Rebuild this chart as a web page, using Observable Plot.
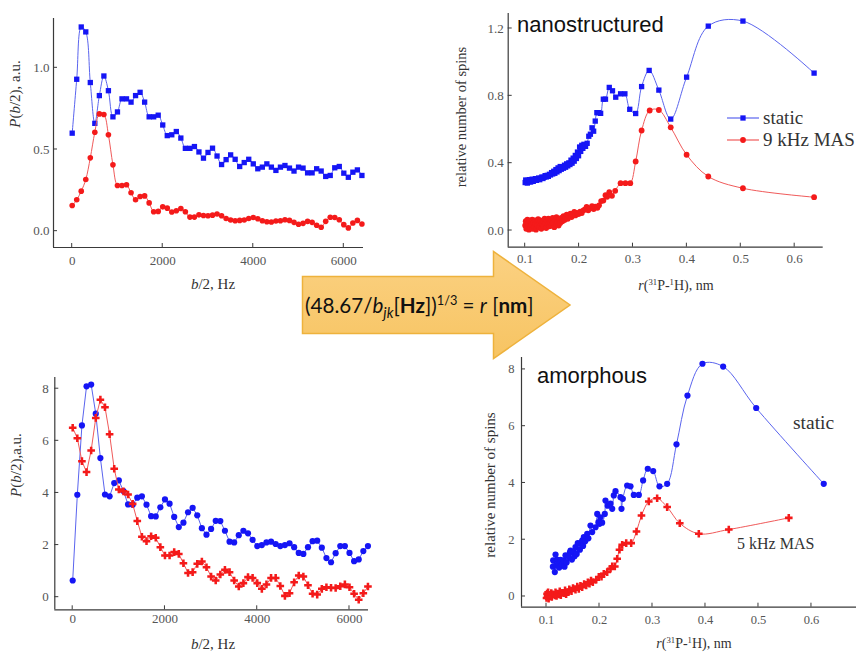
<!DOCTYPE html>
<html>
<head>
<meta charset="utf-8">
<script src="https://cdn.jsdelivr.net/npm/d3@7"></script>
<script src="https://cdn.jsdelivr.net/npm/@observablehq/plot@0.6"></script>
<style>
  html, body { margin: 0; padding: 0; background: #fff; }
  #fig { position: relative; width: 857px; height: 655px; overflow: hidden; background: #fff; }
  #fig > svg { position: absolute; }
</style>
</head>
<body>
<div id="fig"></div>
<script>
// ---------- distribution P(b/2) vs. dipolar frequency b/2 (Hz) ----------
const freqHz = [0,100,200,300,400,500,600,700,800,900,
  1000,1100,1200,1300,1400,1500,1600,1700,1800,1900,
  2000,2100,2200,2300,2400,2500,2600,2700,2800,2900,
  3000,3100,3200,3300,3400,3500,3600,3700,3800,3900,
  4000,4100,4200,4300,4400,4500,4600,4700,4800,4900,
  5000,5100,5200,5300,5400,5500,5600,5700,5800,5900,
  6000,6100,6200,6300,6400];

// nanostructured sample
const nanoStaticP = [0.60,0.93,1.25,1.22,0.91,0.66,0.83,0.95,0.86,0.70,
  0.73,0.81,0.81,0.79,0.83,0.85,0.79,0.70,0.70,0.71,
  0.65,0.585,0.59,0.61,0.57,0.507,0.507,0.518,0.485,0.447,
  0.482,0.508,0.46,0.408,0.438,0.467,0.44,0.396,0.42,0.44,
  0.412,0.382,0.392,0.412,0.392,0.372,0.392,0.402,0.386,0.368,
  0.392,0.386,0.357,0.357,0.382,0.368,0.335,0.341,0.388,0.396,
  0.355,0.33,0.361,0.375,0.341];
const nanoMasP = [0.157,0.192,0.245,0.316,0.449,0.606,0.718,0.714,0.59,0.406,
  0.28,0.28,0.284,0.235,0.192,0.212,0.216,0.173,0.119,0.121,
  0.149,0.141,0.117,0.125,0.139,0.119,0.086,0.086,0.1,0.096,
  0.094,0.098,0.105,0.094,0.078,0.068,0.064,0.066,0.068,0.078,
  0.084,0.076,0.064,0.058,0.056,0.062,0.064,0.07,0.066,0.054,
  0.042,0.048,0.06,0.054,0.036,0.024,0.06,0.085,0.084,0.07,
  0.04,0.02,0.05,0.066,0.044];

// amorphous sample
const amorStaticP = [0.64,3.93,6.59,8.09,8.16,7.04,5.34,3.94,3.87,4.38,
  4.48,4.07,3.56,3.55,3.82,3.87,3.55,3.11,3.10,3.45,
  3.75,3.59,3.08,2.69,2.86,3.26,3.43,3.14,2.65,2.40,
  2.62,2.93,2.92,2.55,2.13,2.10,2.38,2.55,2.45,2.20,
  1.96,2.00,2.10,2.13,2.04,1.96,2.00,2.07,1.92,1.70,
  1.66,1.92,2.15,2.17,1.90,1.50,1.34,1.69,1.96,1.96,
  1.70,1.38,1.45,1.77,1.96];
const amorMasP = [6.50,6.10,5.22,4.80,5.63,6.88,7.58,7.29,6.25,4.93,
  4.13,4.06,3.94,3.58,2.92,2.32,2.15,2.34,2.28,1.92,
  1.60,1.60,1.73,1.66,1.30,0.93,0.96,1.28,1.37,1.15,
  0.79,0.64,0.87,1.05,0.96,0.64,0.41,0.54,0.77,0.74,
  0.54,0.32,0.49,0.74,0.74,0.43,0.05,0.15,0.57,0.83,
  0.79,0.46,0.13,0.10,0.32,0.38,0.36,0.35,0.42,0.49,
  0.38,0.13,-0.10,0.15,0.41];

// ---------- relative number of spins vs. P–H distance r (nm): [r, value] ----------
const nanoStaticR = [[0.100,0.285],[0.101,0.300],[0.102,0.292],[0.104,0.282],[0.105,0.298],[0.107,0.290],
  [0.108,0.302],[0.110,0.288],[0.112,0.296],[0.113,0.305],[0.115,0.292],[0.117,0.300],[0.119,0.308],
  [0.121,0.298],[0.123,0.304],[0.125,0.312],[0.127,0.302],[0.129,0.310],[0.131,0.318],[0.133,0.309],
  [0.135,0.316],[0.137,0.326],[0.139,0.318],[0.141,0.328],[0.143,0.322],[0.145,0.334],[0.147,0.330],
  [0.149,0.344],[0.151,0.336],[0.153,0.352],[0.155,0.340],[0.157,0.362],[0.159,0.348],[0.161,0.372],
  [0.163,0.356],[0.165,0.380],[0.167,0.364],[0.169,0.378],[0.171,0.370],[0.173,0.388],[0.175,0.376],
  [0.177,0.396],[0.179,0.384],[0.181,0.402],[0.183,0.392],[0.185,0.418],[0.187,0.400],[0.189,0.430],
  [0.191,0.412],[0.193,0.446],[0.195,0.428],[0.197,0.466],[0.199,0.444],[0.201,0.496],[0.203,0.470],
  [0.205,0.506],[0.207,0.488],[0.209,0.512],[0.212,0.500],[0.215,0.518],[0.218,0.560],[0.221,0.572],
  [0.224,0.610],[0.227,0.590],[0.230,0.650],[0.233,0.700],[0.236,0.700],[0.240,0.696],[0.245,0.780],
  [0.249,0.780],[0.256,0.850],[0.262,0.830],[0.268,0.792],[0.277,0.812],[0.285,0.812],[0.294,0.720],
  [0.305,0.695],[0.316,0.855],[0.330,0.951],[0.348,0.834],[0.370,0.662],[0.3995,0.911],[0.4397,1.214],
  [0.504,1.244],[0.636,0.935]];
const nanoMasR = [[0.100,0.030],[0.101,0.055],[0.102,0.010],[0.103,0.040],[0.104,0.065],[0.105,0.020],
  [0.106,0.045],[0.107,0.005],[0.108,0.060],[0.109,0.030],[0.110,0.015],[0.111,0.050],[0.112,0.035],
  [0.113,0.065],[0.114,0.010],[0.115,0.045],[0.117,0.025],[0.118,0.060],[0.119,0.040],[0.120,0.005],
  [0.122,0.050],[0.123,0.030],[0.124,0.068],[0.126,0.020],[0.127,0.045],[0.128,0.060],[0.130,0.010],
  [0.131,0.040],[0.133,0.055],[0.134,0.025],[0.136,0.070],[0.137,0.040],[0.139,0.015],[0.140,0.060],
  [0.142,0.035],[0.143,0.070],[0.145,0.025],[0.146,0.050],[0.148,0.065],[0.149,0.030],[0.151,0.075],
  [0.152,0.045],[0.154,0.020],[0.155,0.060],[0.157,0.040],[0.158,0.080],[0.160,0.050],[0.162,0.030],
  [0.163,0.068],[0.165,0.045],[0.167,0.075],[0.169,0.055],[0.171,0.085],[0.173,0.062],[0.175,0.075],
  [0.177,0.095],[0.179,0.070],[0.181,0.085],[0.184,0.100],[0.186,0.080],[0.188,0.095],[0.191,0.110],
  [0.193,0.090],[0.196,0.105],[0.199,0.098],[0.202,0.112],[0.205,0.104],[0.208,0.120],[0.211,0.125],
  [0.214,0.140],[0.217,0.120],[0.220,0.132],[0.224,0.145],[0.227,0.128],[0.230,0.142],[0.234,0.135],
  [0.237,0.150],[0.241,0.175],[0.245,0.178],[0.249,0.210],[0.252,0.200],[0.256,0.228],[0.261,0.206],
  [0.267,0.236],[0.277,0.281],[0.286,0.281],[0.295,0.281],[0.305,0.410],[0.316,0.594],[0.331,0.713],
  [0.348,0.716],[0.370,0.613],[0.3995,0.450],[0.4397,0.321],[0.504,0.251],[0.636,0.198]];

const amorStaticR = [[0.112,1.05],[0.1126,1.27],[0.1157,0.86],[0.117,1.48],[0.118,1.09],[0.120,1.30],
  [0.122,1.15],[0.124,1.02],[0.1264,1.29],[0.129,1.12],[0.1327,1.27],[0.134,1.05],[0.1358,1.45],
  [0.138,1.20],[0.1421,1.39],[0.144,1.55],[0.1453,1.62],[0.148,1.30],[0.1515,1.56],[0.153,1.42],
  [0.1547,1.74],[0.157,1.50],[0.159,1.88],[0.161,1.86],[0.163,1.65],[0.1673,1.97],[0.169,1.78],
  [0.1704,2.09],[0.173,1.95],[0.1768,2.21],[0.179,2.05],[0.183,2.50],[0.1862,2.27],[0.1925,2.44],
  [0.1957,2.91],[0.198,2.62],[0.200,2.56],[0.2019,2.79],[0.205,2.60],[0.210,2.91],[0.2113,3.38],
  [0.2155,3.20],[0.2207,3.27],[0.224,3.09],[0.227,3.56],[0.2302,3.71],[0.2396,3.50],[0.2415,3.09],
  [0.244,3.44],[0.2522,3.91],[0.2585,3.88],[0.2647,3.58],[0.2742,3.58],[0.2823,4.09],[0.2911,4.50],
  [0.3013,4.42],[0.3132,3.88],[0.3277,3.97],[0.3453,5.36],[0.366,7.08],[0.3943,8.20],[0.4333,8.10],
  [0.4957,6.64],[0.6232,3.97]];
const amorMasR = [[0.100,-0.05],[0.101,0.10],[0.102,0.02],[0.103,0.15],[0.104,-0.08],[0.105,0.06],
  [0.1075,0.00],[0.109,0.12],[0.110,-0.02],[0.112,0.08],[0.1157,0.04],[0.117,0.15],[0.119,0.02],
  [0.121,0.10],[0.1232,0.07],[0.125,0.18],[0.127,0.05],[0.130,0.13],[0.1327,0.12],[0.135,0.22],
  [0.137,0.08],[0.1409,0.15],[0.143,0.25],[0.1472,0.19],[0.150,0.30],[0.1547,0.24],[0.158,0.35],
  [0.161,0.27],[0.164,0.38],[0.1673,0.33],[0.171,0.44],[0.1749,0.39],[0.178,0.50],[0.1811,0.45],
  [0.184,0.56],[0.1874,0.50],[0.1938,0.59],[0.1987,0.69],[0.2038,0.70],[0.2081,0.80],[0.2145,0.86],
  [0.2208,0.98],[0.224,1.06],[0.2289,1.06],[0.2334,1.33],[0.2377,1.65],[0.2428,1.82],[0.2504,1.88],
  [0.2598,1.88],[0.2698,2.29],[0.2792,2.85],[0.293,3.35],[0.3088,3.46],[0.3277,3.15],[0.3515,2.58],
  [0.3874,2.21],[0.444,2.36],[0.5572,2.77]];

// tick values
const hzTicks = [0, 2000, 4000, 6000];
const rTicks = [0.1, 0.2, 0.3, 0.4, 0.5, 0.6];
const nanoPTicks = [0, 0.5, 1.0];
const nanoSpinTicks = [0, 0.4, 0.8, 1.2];
const amorTicks = [0, 2, 4, 6, 8];

// ---------- styling ----------
const BLUE = "#1515f5", BLUE_LINE = "#5a64ee";
const RED = "#f41a1a", RED_LINE = "#f05a5a";
const AXIS = "#3a3a3a", TICK_TEXT = "#555", LABEL = "#333";
const SERIF = "'Liberation Serif', 'Times New Roman', serif";
const SANS = "'Liberation Sans', Arial, sans-serif";

const fig = d3.select("#fig");
const asRows = (vals) => freqHz.map((f, i) => ({x: f, y: vals[i]}));
const asPairs = (pairs) => pairs.map(([x, y]) => ({x, y}));

function series(rows, {color, lineColor, symbol, r, curve}) {
  return [
    Plot.line(rows, {x: "x", y: "y", stroke: lineColor, strokeWidth: 1, curve}),
    Plot.dot(rows, {x: "x", y: "y", symbol, r, fill: color, stroke: "none"})
  ];
}

function panel(cfg) {
  const [mt, mr, mb, ml] = cfg.margin;
  const plot = Plot.plot({
    width: cfg.width,
    height: cfg.height,
    marginTop: mt, marginRight: mr, marginBottom: mb, marginLeft: ml,
    style: {fontFamily: SERIF, fontSize: cfg.tickFont + "px", color: TICK_TEXT, background: "transparent", overflow: "visible"},
    x: {domain: cfg.xDomain, ticks: cfg.xTicks, tickFormat: cfg.xFormat, tickSize: 0, tickPadding: cfg.xPad, label: null},
    y: {domain: cfg.yDomain, ticks: cfg.yTicks, tickFormat: cfg.yFormat, tickSize: 0, tickPadding: cfg.yPad, label: null},
    marks: [
      Plot.ruleX([cfg.xDomain[0]], {stroke: AXIS, strokeWidth: 1.2}),
      Plot.ruleY([cfg.yDomain[0]], {stroke: AXIS, strokeWidth: 1.2}),
      ...cfg.marks
    ]
  });
  d3.select(plot).style("left", cfg.left + "px").style("top", cfg.top + "px");
  fig.node().appendChild(plot);

  // short inward ticks, placed with the plot's own scales
  const sx = plot.scale("x"), sy = plot.scale("y");
  const X = sx.apply ? (v) => sx.apply(v) : d3.scaleLinear(sx.domain, sx.range);
  const Y = sy.apply ? (v) => sy.apply(v) : d3.scaleLinear(sy.domain, sy.range);
  const x0 = X(cfg.xDomain[0]), y0 = Y(cfg.yDomain[0]);
  const g = d3.select(plot).append("g").attr("stroke", AXIS).attr("stroke-width", 1);
  for (const t of cfg.xTicks) g.append("line").attr("x1", X(t)).attr("x2", X(t)).attr("y1", y0).attr("y2", y0 - 4);
  for (const t of cfg.yTicks) g.append("line").attr("x1", x0).attr("x2", x0 + 4).attr("y1", Y(t)).attr("y2", Y(t));
  return plot;
}

const fmtInt = d3.format("d"), fmt1 = d3.format(".1f");

// top left: P(b/2) for the nanostructured sample
panel({
  left: 0, top: 0, width: 380, height: 300, margin: [18, 17, 53, 53],
  xDomain: [-413, 6435], yDomain: [-0.1, 1.302],
  xTicks: hzTicks, yTicks: nanoPTicks, xFormat: fmtInt, yFormat: fmt1,
  xPad: 8, yPad: 4, tickFont: 13,
  marks: [
    ...series(asRows(nanoStaticP), {color: BLUE, lineColor: BLUE_LINE, symbol: "square", r: 3, curve: "catmull-rom"}),
    ...series(asRows(nanoMasP), {color: RED, lineColor: RED_LINE, symbol: "circle", r: 2.8, curve: "catmull-rom"})
  ]
});

// top right: relative number of spins for the nanostructured sample
panel({
  left: 440, top: 0, width: 417, height: 300, margin: [13, 34.3, 53.3, 67.7],
  xDomain: [0.0685, 0.6529], yDomain: [-0.099, 1.289],
  xTicks: rTicks, yTicks: nanoSpinTicks, xFormat: fmt1, yFormat: fmt1,
  xPad: 6.5, yPad: 4.4, tickFont: 13,
  marks: [
    ...series(asPairs(nanoStaticR), {color: BLUE, lineColor: BLUE_LINE, symbol: "square", r: 3, curve: "catmull-rom"}),
    ...series(asPairs(nanoMasR), {color: RED, lineColor: RED_LINE, symbol: "circle", r: 2.9, curve: "catmull-rom"})
  ]
});

// bottom left: P(b/2) for the amorphous sample
panel({
  left: 0, top: 355, width: 380, height: 300, margin: [22, 12, 45.7, 54.3],
  xDomain: [-388, 6412], yDomain: [-0.484, 8.43],
  xTicks: hzTicks, yTicks: amorTicks, xFormat: fmtInt, yFormat: fmtInt,
  xPad: 4, yPad: 6, tickFont: 13,
  marks: [
    ...series(asRows(amorStaticP), {color: BLUE, lineColor: BLUE_LINE, symbol: "circle", r: 3.1, curve: "linear"}),
    ...series(asRows(amorMasP), {color: RED, lineColor: RED_LINE, symbol: "cross", r: 3.2, curve: "linear"})
  ]
});

// bottom right: relative number of spins for the amorphous sample
panel({
  left: 440, top: 350, width: 417, height: 305, margin: [7, 1, 48.3, 81],
  xDomain: [0.0528, 0.685], yDomain: [-0.377, 8.42],
  xTicks: rTicks, yTicks: amorTicks, xFormat: fmt1, yFormat: fmtInt,
  xPad: 8.4, yPad: 7, tickFont: 12.5,
  marks: [
    ...series(asPairs(amorStaticR), {color: BLUE, lineColor: BLUE_LINE, symbol: "circle", r: 3.1, curve: "catmull-rom"}),
    ...series(asPairs(amorMasR), {color: RED, lineColor: RED_LINE, symbol: "cross", r: 3.2, curve: "catmull-rom"})
  ]
});

// ---------- labels, legend and the conversion arrow ----------
const overlay = fig.append("svg")
  .attr("width", 857).attr("height", 655)
  .style("left", "0px").style("top", "0px")
  .style("pointer-events", "none");

function rich(parent, parts, size) {
  for (const p of parts) {
    const ts = parent.append("tspan").text(p.t);
    if (p.i) ts.attr("font-style", "italic");
    if (p.b) ts.attr("font-weight", "bold");
    if (p.sup) ts.attr("font-size", size * 0.62).attr("dy", -size * 0.38);
    if (p.sub) ts.attr("font-size", size * 0.7).attr("dy", size * 0.25);
    if (p.back) ts.attr("dy", p.back);
  }
}

function label(x, y, parts, {size = 15, rotate = false, anchor = "middle", family = SERIF, fill = LABEL} = {}) {
  const t = overlay.append("text")
    .attr("font-family", family).attr("font-size", size).attr("fill", fill)
    .attr("text-anchor", anchor);
  if (rotate) t.attr("transform", `translate(${x},${y}) rotate(-90)`);
  else t.attr("x", x).attr("y", y);
  rich(t, parts, size);
  return t;
}

const rAxisParts = (size) => [
  {t: "r", i: true}, {t: "("}, {t: "31", sup: true}, {t: "P-", back: size * 0.38},
  {t: "1", sup: true}, {t: "H), nm", back: size * 0.38}
];

// axis titles
label(213, 289, [{t: "b", i: true}, {t: "/2, Hz"}], {size: 15});
label(20, 94, [{t: "P", i: true}, {t: "("}, {t: "b", i: true}, {t: "/2), a.u."}], {size: 15, rotate: true});
label(676, 290, rAxisParts(14), {size: 14});
label(466, 117, [{t: "relative number of spins"}], {size: 14.5, rotate: true});
label(213, 649, [{t: "b", i: true}, {t: "/2, Hz"}], {size: 15});
label(21, 465, [{t: "P", i: true}, {t: "("}, {t: "b", i: true}, {t: "/2),a.u."}], {size: 15, rotate: true});
label(694, 648, rAxisParts(14), {size: 14});
label(495, 485, [{t: "relative number of spins"}], {size: 15, rotate: true});

// sample names and series annotations
label(517, 32, [{t: "nanostructured"}], {size: 22, anchor: "start", family: SANS, fill: "#111"});
label(537, 383, [{t: "amorphous"}], {size: 22, anchor: "start", family: SANS, fill: "#111"});
label(793, 429, [{t: "static"}], {size: 19.5, anchor: "start"});
label(737, 549, [{t: "5 kHz MAS"}], {size: 16, anchor: "start"});

// legend of the nanostructured spin-count panel
const legend = overlay.append("g");
[[118, BLUE, BLUE_LINE, d3.symbolSquare, 28, "static"], [140, RED, RED_LINE, d3.symbolCircle, 26, "9 kHz MAS"]]
  .forEach(([y, c, lc, sym, area, name]) => {
    legend.append("line").attr("x1", 727).attr("x2", 759).attr("y1", y).attr("y2", y).attr("stroke", lc).attr("stroke-width", 1.2);
    legend.append("path").attr("d", d3.symbol(sym, area)()).attr("transform", `translate(743,${y})`).attr("fill", c);
    label(763, y + 6, [{t: name}], {size: 19, anchor: "start"});
  });

// the arrow with the b → r conversion
const defs = overlay.append("defs");
const grad = defs.append("linearGradient").attr("id", "arrowFill").attr("x1", 0).attr("y1", 0).attr("x2", 0).attr("y2", 1);
grad.append("stop").attr("offset", "0%").attr("stop-color", "#fbd182");
grad.append("stop").attr("offset", "100%").attr("stop-color", "#f7c462");
overlay.append("path")
  .attr("d", "M302.5,276.5 H493.5 V251.5 L570,305 L493.5,358.5 V333.5 H302.5 Z")
  .attr("fill", "url(#arrowFill)").attr("stroke", "#eeb23c").attr("stroke-width", 1.5)
  .attr("stroke-linejoin", "miter");
const aSize = 20.6;
label(305, 313, [
  {t: "(48.67/"}, {t: "b", i: true}, {t: "jk", i: true, sub: true}, {t: "[", back: -aSize * 0.25},
  {t: "Hz", b: true}, {t: "])"}, {t: "1/3", sup: true}, {t: " = ", back: aSize * 0.38},
  {t: "r", i: true}, {t: " ["}, {t: "nm", b: true}, {t: "]"}
], {size: aSize, anchor: "start", family: "Lato, 'Open Sans', sans-serif", fill: "#111"});
</script>
</body>
</html>
